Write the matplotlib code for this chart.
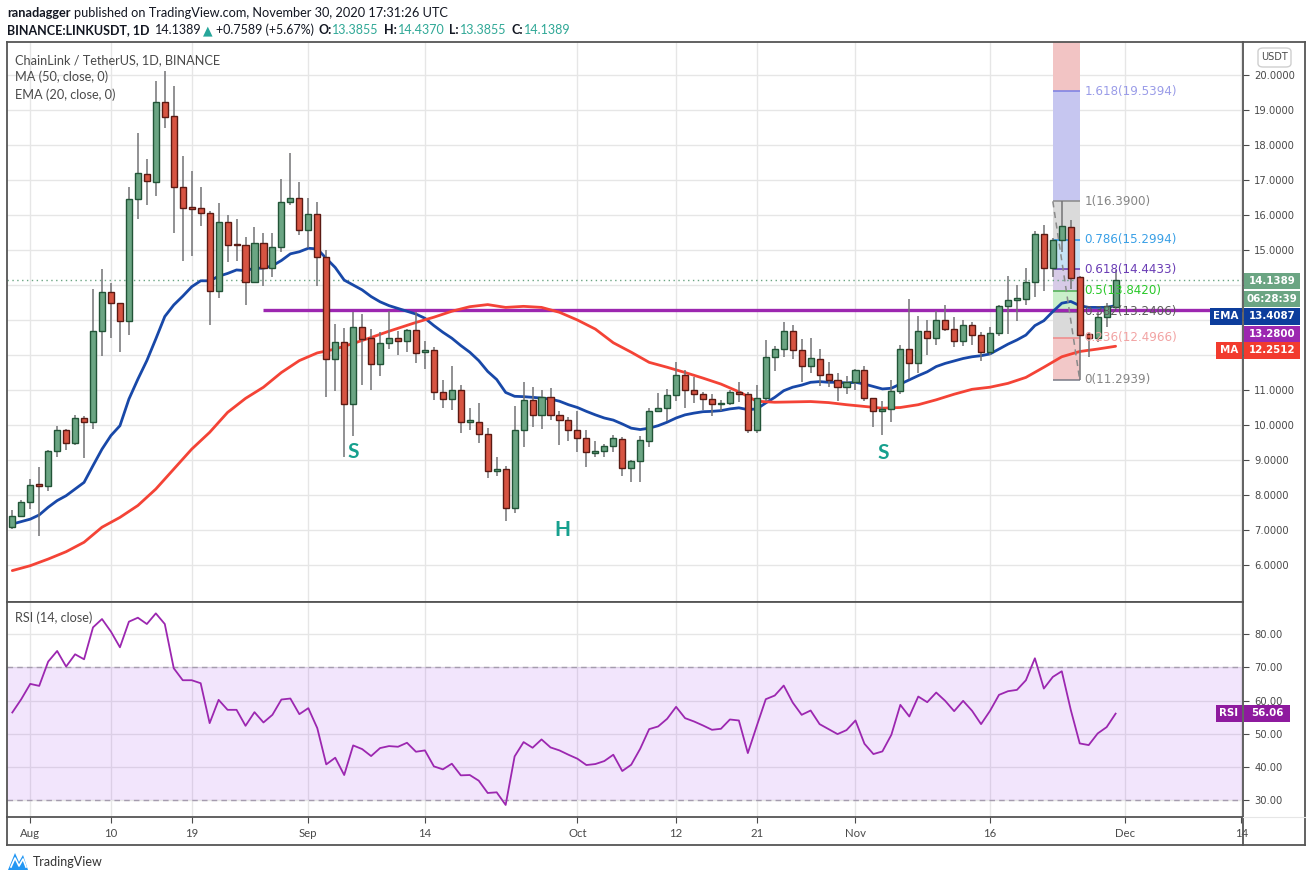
import numpy as np
import matplotlib
matplotlib.use('Agg')
import matplotlib.pyplot as plt
from matplotlib.patches import Rectangle, FancyBboxPatch, Polygon
from matplotlib.lines import Line2D
from matplotlib import font_manager

# ---------------- data (day index 0 = Jul 30, 2020 ... 123 = Nov 30, 2020) ----------------
opens = [7.08, 7.39, 7.79, 8.30, 8.27, 9.25, 9.85, 9.50, 10.21, 10.10,
         12.70, 13.79, 13.48, 12.98, 16.45, 17.16, 16.93, 19.22, 18.82, 16.79,
         16.19, 16.19, 16.05, 13.82, 15.79, 15.17, 15.13, 14.10, 15.19, 14.50,
         15.10, 16.36, 16.48, 15.56, 16.02, 14.79, 11.89, 12.36, 10.59, 12.79,
         12.48, 11.74, 12.33, 12.48, 12.41, 12.71, 12.08, 12.13, 10.93, 10.73,
         10.99, 10.08, 10.10, 9.74, 8.70, 8.74, 7.62, 9.86, 10.71, 10.30,
         10.79, 10.29, 10.14, 9.86, 9.62, 9.19, 9.25, 9.39, 9.59, 8.76,
         8.96, 9.53, 10.39, 10.50, 10.85, 11.42, 10.99, 10.88, 10.73, 10.59,
         10.62, 10.93, 10.90, 9.86, 10.76, 11.93, 12.16, 12.70, 12.13, 11.70,
         11.90, 11.45, 11.28, 11.08, 11.22, 11.56, 10.76, 10.39, 10.45, 10.96,
         12.16, 11.76, 12.70, 12.50, 12.99, 12.73, 12.39, 12.85, 12.56, 12.10,
         12.62, 13.39, 13.56, 13.60, 14.08, 15.45, 14.50, 15.28, 15.65, 14.22,
         12.59, 12.48, 13.08, 13.3855]
highs = [7.57, 7.87, 8.46, 8.80, 9.28, 9.98, 9.88, 10.29, 10.27, 13.89,
         14.46, 14.06, 13.50, 16.81, 18.34, 17.60, 19.83, 20.11, 19.70, 17.70,
         17.25, 16.81, 16.12, 16.34, 16.00, 15.89, 15.36, 15.65, 15.50, 15.50,
         17.03, 17.77, 16.93, 16.50, 16.36, 15.00, 12.90, 12.76, 13.22, 13.17,
         12.74, 12.65, 13.25, 12.70, 12.74, 13.22, 12.41, 12.22, 11.29, 11.70,
         11.14, 10.49, 10.63, 9.91, 9.10, 8.82, 10.55, 11.22, 11.10, 11.00,
         11.06, 10.41, 10.24, 10.41, 9.87, 9.53, 9.46, 9.71, 9.65, 9.00,
         9.68, 10.50, 10.91, 11.03, 11.81, 11.57, 11.36, 10.95, 10.89, 10.71,
         11.00, 11.24, 10.95, 11.14, 12.43, 12.27, 12.93, 12.86, 12.46, 12.49,
         12.17, 11.80, 11.49, 11.41, 11.61, 11.68, 10.78, 10.68, 11.29, 12.29,
         13.60, 13.12, 13.00, 13.27, 13.43, 13.10, 13.00, 12.93, 12.67, 12.79,
         13.43, 14.27, 14.01, 14.49, 15.53, 15.72, 15.35, 16.39, 15.86, 14.25,
         12.65, 13.22, 13.49, 14.437]
lows = [7.03, 7.36, 7.60, 6.84, 8.12, 9.08, 9.30, 9.44, 9.06, 9.90,
        11.98, 12.50, 12.08, 12.57, 15.89, 16.30, 16.55, 18.49, 15.50, 14.68,
        14.84, 15.70, 12.87, 13.63, 14.65, 14.70, 13.44, 14.05, 13.96, 14.22,
        14.95, 16.30, 15.44, 15.06, 13.98, 10.81, 10.98, 9.08, 9.70, 11.15,
        11.01, 11.41, 12.17, 12.00, 12.08, 11.76, 11.60, 10.72, 10.48, 10.44,
        9.76, 9.87, 9.48, 8.48, 8.53, 7.27, 7.48, 9.36, 9.95, 9.90,
        10.14, 9.44, 9.55, 9.24, 8.79, 9.10, 9.10, 9.24, 8.55, 8.36,
        8.38, 9.36, 10.36, 10.12, 10.68, 10.50, 10.62, 10.44, 10.25, 10.39,
        10.58, 10.65, 9.76, 9.76, 10.69, 11.55, 11.95, 11.90, 11.24, 11.48,
        11.12, 11.08, 10.70, 10.90, 11.00, 10.70, 9.93, 9.72, 10.08, 10.90,
        11.31, 11.48, 12.01, 12.30, 12.70, 12.24, 12.27, 12.30, 11.82, 11.99,
        12.53, 12.59, 12.98, 13.44, 13.67, 13.82, 14.22, 14.93, 13.89, 11.29,
        11.93, 12.36, 12.81, 13.3855]
closes = [7.39, 7.79, 8.30, 8.27, 9.25, 9.85, 9.50, 10.21, 10.10, 12.70,
          13.79, 13.48, 12.98, 16.45, 17.19, 16.96, 19.22, 18.79, 16.81, 16.19,
          16.17, 16.05, 13.82, 15.79, 15.14, 15.13, 14.10, 15.19, 14.50, 15.10,
          16.36, 16.48, 15.56, 16.02, 14.79, 11.89, 12.36, 10.59, 12.79, 12.46,
          11.74, 12.33, 12.48, 12.41, 12.71, 12.05, 12.12, 10.93, 10.73, 10.99,
          10.08, 10.10, 9.74, 8.70, 8.74, 7.62, 9.86, 10.71, 10.30, 10.79,
          10.29, 10.14, 9.86, 9.62, 9.22, 9.25, 9.39, 9.62, 8.76, 8.96,
          9.56, 10.39, 10.50, 10.85, 11.42, 10.99, 10.88, 10.73, 10.59, 10.62,
          10.93, 10.90, 9.86, 10.76, 11.93, 12.16, 12.70, 12.13, 11.70, 11.90,
          11.42, 11.28, 11.08, 11.22, 11.56, 10.76, 10.39, 10.45, 10.96, 12.16,
          11.76, 12.70, 12.50, 12.99, 12.73, 12.39, 12.85, 12.56, 12.10, 12.62,
          13.39, 13.56, 13.63, 14.08, 15.45, 14.50, 15.28, 15.68, 14.19, 12.58,
          12.48, 13.08, 13.39, 14.1389]
ema20 = [7.17, 7.24, 7.31, 7.43, 7.65, 7.84, 7.98, 8.17, 8.36, 8.84,
         9.31, 9.70, 9.98, 10.74, 11.31, 11.84, 12.46, 13.10, 13.43, 13.68,
         13.95, 14.12, 14.12, 14.25, 14.33, 14.43, 14.41, 14.48, 14.48, 14.55,
         14.70, 14.89, 14.95, 15.05, 15.03, 14.76, 14.50, 14.14, 14.00, 13.86,
         13.67, 13.52, 13.41, 13.33, 13.25, 13.17, 13.05, 12.84, 12.65, 12.48,
         12.27, 12.08, 11.84, 11.53, 11.30, 10.93, 10.82, 10.81, 10.79, 10.77,
         10.74, 10.68, 10.58, 10.50, 10.39, 10.29, 10.20, 10.14, 10.03, 9.91,
         9.87, 9.91, 9.98, 10.08, 10.20, 10.29, 10.34, 10.38, 10.39, 10.41,
         10.46, 10.49, 10.44, 10.46, 10.63, 10.79, 10.98, 11.08, 11.14, 11.22,
         11.24, 11.22, 11.22, 11.20, 11.22, 11.17, 11.10, 11.03, 11.05, 11.17,
         11.29, 11.41, 11.52, 11.67, 11.76, 11.83, 11.90, 11.95, 11.98, 12.03,
         12.17, 12.31, 12.43, 12.57, 12.84, 12.98, 13.24, 13.48, 13.53, 13.41,
         13.36, 13.36, 13.36, 13.41]
ma50_day = [0, 2, 4, 6, 8, 10, 12, 14, 16, 18, 20, 22, 24, 26, 28, 30, 32, 34, 36, 38,
            40, 42, 45, 47, 49, 51, 53, 55, 57, 59, 61, 63, 65, 67, 69, 71, 73, 75, 77, 79,
            81, 83, 85, 87, 89, 91, 93, 95, 97, 99, 101, 103, 105, 107, 109, 111, 113, 115,
            117, 119, 121, 123]
ma50 = [5.84, 5.98, 6.17, 6.38, 6.65, 7.08, 7.36, 7.70, 8.17, 8.74, 9.31, 9.79, 10.36, 10.76,
        11.08, 11.50, 11.84, 12.06, 12.17, 12.33, 12.50, 12.68, 12.93, 13.08, 13.25, 13.38,
        13.44, 13.36, 13.39, 13.36, 13.22, 13.00, 12.74, 12.35, 12.08, 11.79, 11.65, 11.50,
        11.34, 11.17, 10.95, 10.68, 10.65, 10.66, 10.67, 10.64, 10.58, 10.53, 10.48, 10.50,
        10.58, 10.72, 10.88, 11.02, 11.08, 11.19, 11.36, 11.65, 11.95, 12.10, 12.17, 12.25]
rsi14 = [56.4, 60.4, 65.0, 64.4, 71.7, 74.9, 70.2, 73.9, 72.4, 82.0,
         84.5, 80.7, 76.0, 83.7, 84.9, 83.0, 86.2, 83.0, 69.7, 66.1,
         66.1, 65.2, 53.2, 60.2, 57.2, 57.2, 52.4, 56.5, 53.4, 55.7,
         60.3, 60.6, 55.9, 57.7, 51.7, 40.8, 42.8, 37.6, 46.5, 45.4,
         43.3, 45.7, 46.3, 46.1, 47.3, 44.6,
         45.0, 40.2, 39.3, 41.0, 37.5, 37.6, 35.9, 32.2, 32.4, 28.6,
         43.2, 47.5, 45.8, 48.3, 45.9, 45.0, 43.7,
         42.5, 40.6, 40.9, 41.8, 43.7, 38.8, 40.7, 45.5, 51.4, 52.2, 54.5,
         58.1, 54.7, 53.7, 52.5, 51.2, 51.5, 54.3, 54.0, 44.2, 52.4,
         60.4, 61.5, 64.5, 59.4, 55.7, 57.0, 52.9, 51.4,
         49.9, 51.1, 54.0, 47.0, 43.9, 44.7, 49.7, 58.7, 55.2, 61.2,
         59.5, 62.4, 59.9, 56.8, 59.9, 56.9, 52.9, 56.9, 61.7, 62.8,
         63.2, 66.1, 72.7, 63.6, 67.1, 68.8, 57.2, 47.1, 46.6, 50.1,
         52.0, 56.06]

time_ticks = [2, 11, 20, 33, 46, 63, 74, 83, 94, 109, 124, 137]
time_labels = ['Aug', '10', '19', 'Sep', '14', 'Oct', '12', '21', 'Nov', '16', 'Dec', '14']
price_ticks = list(range(6, 21))
hidden_price_labels = [12, 13, 14]   # covered by the value boxes on the scale
rsi_ticks = [30, 40, 50, 60, 70, 80]

resistance = 13.28
resistance_start = 28
fib_names = ['0', '0.236', '0.382', '0.5', '0.618', '0.786', '1', '1.618']
fib_prices = [11.2939, 12.4966, 13.2406, 13.8420, 14.4433, 15.2994, 16.3900, 19.5394]
fib_start, fib_end = 116, 119
pattern_labels = ['S', 'H', 'S']
pattern_x = [38, 61.3, 97.1]
pattern_y = [9.23, 7.0, 9.2]

# ---------------- helpers ----------------
W, H = 1311, 881
names = {f.name for f in font_manager.fontManager.ttflist}
UI = 'Lato' if 'Lato' in names else 'DejaVu Sans'
AX = 'DejaVu Sans'

fig = plt.figure(figsize=(W / 100, H / 100), dpi=100)
fig.patch.set_facecolor('white')


def fx(px):
    return px / W


def fy(py):
    return 1 - py / H


def axes_px(x0, y0, x1, y1):
    return fig.add_axes([fx(x0), fy(y1), (x1 - x0) / W, (y1 - y0) / H])


PX0, PX1 = 7, 1243
XMIN = (PX0 - 12.3) / 8.97
XMAX = (PX1 - 12.3) / 8.97

GRID = '#e6e6e6'
FRAME = '#555555'
TXT = '#4a4a4a'

# ---------------- price pane ----------------
ax = axes_px(PX0, 42, PX1, 602)
ax.set_xlim(XMIN, XMAX)
ax.set_ylim(20 - (602 - 75) / 35, 20 + (75 - 42) / 35)
ax.set_yticks(price_ticks)
ax.set_yticklabels(['' if v in hidden_price_labels else f'{v:.4f}' for v in price_ticks])
ax.yaxis.tick_right()
ax.tick_params(axis='y', length=4, pad=4, color=TXT, labelcolor=TXT, labelsize=7.2)
for lab in ax.get_yticklabels():
    lab.set_family(AX)
ax.set_xticks(time_ticks)
ax.tick_params(axis='x', length=0, labelbottom=False)
ax.grid(True, color=GRID, lw=1, zorder=0)
ax.set_axisbelow(True)
for s in ax.spines.values():
    s.set_color(FRAME)
    s.set_linewidth(1.3)

days = np.arange(len(closes))
o = np.array(opens); c = np.array(closes); h = np.array(highs); l = np.array(lows)
up = c >= o

# fibonacci zones
fib_fill = ['#f2c8c8', '#dadada', '#c9efca', '#d7cbe7', '#c6e2f5', '#dadada', '#c6c6f0']
fib_line = ['#787b86', '#f08a8a', '#787b86', '#4caf50', '#673ab7', '#2196f3', '#8a8a8a', '#7b7fe3']
fib_text = ['#858585', '#f2a3a3', '#5a5a5a', '#28c828', '#6a3db5', '#3aa0e6', '#858585', '#9a9ce8']
for k in range(len(fib_prices) - 1):
    ax.fill_between([fib_start, fib_end], fib_prices[k], fib_prices[k + 1],
                    color=fib_fill[k], lw=0, zorder=1)
ax.fill_between([fib_start, fib_end], fib_prices[-1], 30, color='#f2c4c4', lw=0, zorder=1)
for k, p in enumerate(fib_prices):
    ax.hlines(p, fib_start, fib_end, color=fib_line[k], lw=1.1, zorder=1.5)
    ax.text(119.5, p, f'{fib_names[k]}({p:.4f})', color=fib_text[k], fontsize=8.6,
            family=AX, va='center', ha='left', zorder=6)

# current price dotted line
ax.axhline(closes[-1], color='#6ba583', lw=1, ls=(0, (1, 2.5)), zorder=1.6)

# resistance line
ax.hlines(resistance, resistance_start, XMAX, color='#9c27b0', lw=2.4, zorder=2)

# moving averages
ax.plot(days, ema20, color='#1848a8', lw=2.0, zorder=2.2, solid_capstyle='round')
ax.plot(ma50_day, ma50, color='#f44336', lw=2.0, zorder=2.2, solid_capstyle='round')

# candles
ax.vlines(days, l, h, color='#737375', lw=1.1, zorder=3)
body_b = np.minimum(o, c)
body_h = np.maximum(np.abs(c - o), 0.05)
ax.bar(days[up], body_h[up], bottom=body_b[up], width=0.68, color='#6ba583',
       edgecolor='#225437', lw=1, zorder=4)
ax.bar(days[~up], body_h[~up], bottom=body_b[~up], width=0.68, color='#d75442',
       edgecolor='#5b1a13', lw=1, zorder=4)

# dashed trend line across fib
ax.plot([fib_start, fib_end], [fib_prices[6], fib_prices[0]], color='#8a8a8a', lw=1.1,
        ls=(0, (4, 3)), zorder=5)

for t, xx, yy in zip(pattern_labels, pattern_x, pattern_y):
    ax.text(xx, yy, t, color='#16a08e', fontsize=15, fontweight='bold', family=UI,
            ha='center', va='center', zorder=6)

# ---------------- RSI pane ----------------
ar = axes_px(PX0, 602, PX1, 817)
ar.set_xlim(XMIN, XMAX)
ar.set_ylim(30 - (817 - 800.3) / 3.326, 80 + (634 - 602) / 3.326)
ar.set_yticks(rsi_ticks)
ar.set_yticklabels([f'{v:.2f}' for v in rsi_ticks])
ar.yaxis.tick_right()
ar.tick_params(axis='y', length=4, pad=4, color=TXT, labelcolor=TXT, labelsize=7.2)
for lab in ar.get_yticklabels():
    lab.set_family(AX)
ar.set_xticks(time_ticks)
ar.set_xticklabels(time_labels)
ar.tick_params(axis='x', length=4, pad=4, color=TXT, labelcolor=TXT, labelsize=8.2)
for lab in ar.get_xticklabels():
    lab.set_family(UI)
ar.grid(True, color=GRID, lw=1, zorder=0)
ar.set_axisbelow(True)
for s in ar.spines.values():
    s.set_color(FRAME)
    s.set_linewidth(1.3)
ar.axhspan(30, 70, color='#9b2fee', alpha=0.12, lw=0, zorder=1)
ar.axhline(70, color='#a59cae', lw=1, ls=(0, (4, 3)), zorder=1.5)
ar.axhline(30, color='#a59cae', lw=1, ls=(0, (4, 3)), zorder=1.5)
ar.plot(np.arange(len(rsi14)), rsi14, color='#9c27b0', lw=1.3, zorder=3)

# ---------------- frame pieces ----------------
def fline(x0, y0, x1, y1, color=FRAME, lw=1.3):
    fig.add_artist(Line2D([fx(x0), fx(x1)], [fy(y0), fy(y1)], color=color, lw=lw,
                          transform=fig.transFigure, zorder=10))

fline(PX0, 817, PX0, 845)
fline(PX0, 845, 1305, 845)
fline(1305, 42, 1305, 845)
fline(PX1, 42, 1305, 42)
fline(PX1, 817, PX1, 845)
fline(PX1, 817, 1305, 817, color=GRID, lw=0.8)


def box(x0, x1, yc, hh, color, text, size=7.4, bold=True, tcolor='white'):
    fig.add_artist(Rectangle((fx(x0), fy(yc + hh / 2)), (x1 - x0) / W, hh / H,
                             transform=fig.transFigure, facecolor=color, edgecolor='none', zorder=8))
    fig.text(fx((x0 + x1) / 2), fy(yc), text, color=tcolor, ha='center', va='center',
             fontsize=size, family=AX, fontweight='bold' if bold else 'normal', zorder=9)


box(1244, 1300, 281, 16, '#6ba583', '14.1389')
box(1244, 1300, 299, 16, '#6ba583', '06:28:39')
box(1210, 1242, 316, 17, '#0d3d9c', 'EMA')
box(1244, 1300, 316, 17, '#0d3d9c', '13.4087')
box(1244, 1300, 334, 16, '#9c27b0', '13.2800')
box(1216, 1242, 350, 17, '#f23b2e', 'MA')
box(1244, 1300, 350, 17, '#f23b2e', '12.2512')
box(1216, 1242, 713, 17, '#8e1a9e', 'RSI')
box(1244, 1290, 713, 17, '#8e1a9e', '56.06')

fig.add_artist(FancyBboxPatch((fx(1258), fy(67)), 33 / W, 19 / H,
                              boxstyle='round,pad=0,rounding_size=0.004',
                              transform=fig.transFigure, facecolor='white',
                              edgecolor='#cfcfcf', lw=1, zorder=8))
fig.text(fx(1274.5), fy(57.5), 'USDT', fontsize=7, family=AX, color=TXT,
         ha='center', va='center', zorder=9)

# ---------------- texts ----------------
renderer = fig.canvas.get_renderer()


def runs(x, y, parts, size):
    for txt, color, weight, gap in parts:
        x += gap
        fam = [UI, 'DejaVu Sans']
        t = fig.text(fx(x), fy(y), txt, color=color, fontsize=size, fontweight=weight,
                     family=fam, ha='left', va='center', zorder=9)
        x += t.get_window_extent(renderer=renderer).width


DARK = '#131722'
TEAL = '#2fa896'
runs(7, 13, [('ranadagger', DARK, 'bold', 0),
             ('published on TradingView.com, November 30, 2020 17:31:26 UTC', DARK, 'normal', 3.8)],
     9.2)
runs(7, 30, [('BINANCE:LINKUSDT, 1D', DARK, 'bold', 0),
             ('14.1389', DARK, 'normal', 5.5),
             ('\u25b2', '#26a69a', 'normal', 1.5),
             ('+0.7589 (+5.67%)', DARK, 'normal', 3.5),
             ('O:', DARK, 'bold', 4), ('13.3855', TEAL, 'normal', 0.8),
             ('H:', DARK, 'bold', 5), ('14.4370', TEAL, 'normal', 0.8),
             ('L:', DARK, 'bold', 5), ('13.3855', TEAL, 'normal', 0.8),
             ('C:', DARK, 'bold', 5), ('14.1389', TEAL, 'normal', 0.8)],
     9.0)

for yy, t in [(60, 'ChainLink / TetherUS, 1D, BINANCE'), (77, 'MA (50, close, 0)'),
              (95, 'EMA (20, close, 0)')]:
    fig.text(fx(15), fy(yy), t, fontsize=9.2, family=UI, color=TXT, ha='left', va='center',
             zorder=9)
fig.text(fx(15), fy(618), 'RSI (14, close)', fontsize=9.1, family=UI, color=TXT,
         ha='left', va='center', zorder=9)

# logo
fig.add_artist(Polygon([[fx(8), fy(870)], [fx(15), fy(853)], [fx(19), fy(862)],
                        [fx(23), fy(855)], [fx(28), fy(870)]], closed=True,
                       transform=fig.transFigure, facecolor='#2196f3', edgecolor='none', zorder=9))
fig.add_artist(Line2D([fx(11), fx(15), fx(19), fx(23), fx(26)],
                      [fy(867), fy(858), fy(866), fy(859), fy(867)], color='white', lw=1.2,
                      transform=fig.transFigure, zorder=10))
fig.text(fx(33), fy(862), 'TradingView', fontsize=9, family=UI, color='#333333',
         ha='left', va='center', zorder=9)

fig.savefig('out.png', dpi=100, facecolor='white')
